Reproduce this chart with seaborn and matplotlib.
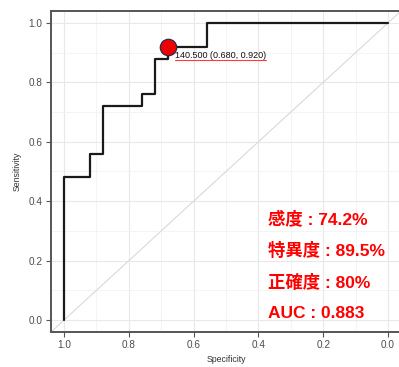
import numpy as np
import pandas as pd
import matplotlib
matplotlib.use("Agg")
import matplotlib.pyplot as plt
from matplotlib.ticker import MultipleLocator, FormatStrFormatter
import seaborn as sns

# ROC curve vertices (specificity, sensitivity)
specificity = [1.00, 1.00, 0.92, 0.92, 0.88, 0.88, 0.76, 0.76, 0.72, 0.72, 0.68, 0.68, 0.56, 0.56, 0.00]
sensitivity = [0.00, 0.48, 0.48, 0.56, 0.56, 0.72, 0.72, 0.76, 0.76, 0.88, 0.88, 0.92, 0.92, 1.00, 1.00]

# best threshold
best_threshold = 140.5
best_spec = 0.680
best_sens = 0.920

# summary statistics
stat_labels = ["感度", "特異度", "正確度", "AUC"]
stat_values = ["74.2%", "89.5%", "80%", "0.883"]

sns.set_theme(style="white")
plt.rcParams["font.family"] = ["Liberation Sans", "DejaVu Sans"]

fig = plt.figure(figsize=(3.99, 3.67), dpi=100)
ax = fig.add_axes([51 / 399, 35 / 367, 350 / 399, 321 / 367])

# chance diagonal
diag = pd.DataFrame({"spec": [1.2, -0.2], "sens": [-0.2, 1.2]})
sns.lineplot(data=diag, x="spec", y="sens", ax=ax, color="#d9d9d9", lw=0.8,
             sort=False, estimator=None)

roc = pd.DataFrame({"spec": specificity, "sens": sensitivity})
sns.lineplot(data=roc, x="spec", y="sens", ax=ax, color="#1a1a1a", lw=1.6,
             sort=False, estimator=None)

best = pd.DataFrame({"spec": [best_spec], "sens": [best_sens]})
sns.scatterplot(data=best, x="spec", y="sens", ax=ax, s=140, color="#ee0000",
                edgecolor="#2b2b55", linewidth=0.9, zorder=5)

lbl = ax.annotate(f"{best_threshold:.3f} ({best_spec:.3f}, {best_sens:.3f})",
                  xy=(best_spec, best_sens), xytext=(5, -6), textcoords="offset points",
                  fontsize=6.5, color="#111111", ha="left", va="center", zorder=6)

ax.set_xlim(1.04, -0.04)
ax.set_ylim(-0.04, 1.04)
ax.xaxis.set_major_locator(MultipleLocator(0.2))
ax.yaxis.set_major_locator(MultipleLocator(0.2))
ax.xaxis.set_minor_locator(MultipleLocator(0.1))
ax.yaxis.set_minor_locator(MultipleLocator(0.1))
ax.xaxis.set_major_formatter(FormatStrFormatter("%.1f"))
ax.yaxis.set_major_formatter(FormatStrFormatter("%.1f"))

ax.grid(which="major", color="#e8e8e8", lw=0.8)
ax.grid(which="minor", color="#f2f2f2", lw=0.6)
ax.set_axisbelow(True)
for s in ax.spines.values():
    s.set_color("#555555")
    s.set_linewidth(1.4)

ax.tick_params(axis="both", which="major", length=3.5, width=0.8, color="#555555",
               labelsize=7.2, labelcolor="#4d4d4d", pad=2.5, bottom=True, left=True)
ax.tick_params(which="minor", length=0)
ax.set_xlabel("Specificity", fontsize=6.3, color="#333333", labelpad=3)
ax.set_ylabel("Sensitivity", fontsize=6.3, color="#333333", labelpad=5)

# red underline below the threshold label
fig.canvas.draw()
bb = lbl.get_window_extent().transformed(ax.transData.inverted())
ax.plot([bb.x0, bb.x1], [bb.y0 - 0.003, bb.y0 - 0.003], color="#ff3b3b", lw=0.8, zorder=6)

# summary statistics in red
ys = [0.34, 0.235, 0.128, 0.022]
for lab, val, yy in zip(stat_labels, stat_values, ys):
    ax.text(0.37, yy, f"{lab} : {val}", color="#ff0000", fontsize=12.5, fontweight="bold",
            ha="left", va="center", family=["Liberation Sans", "Noto Sans CJK JP"], zorder=7)

fig.savefig("out.png", dpi=100)
